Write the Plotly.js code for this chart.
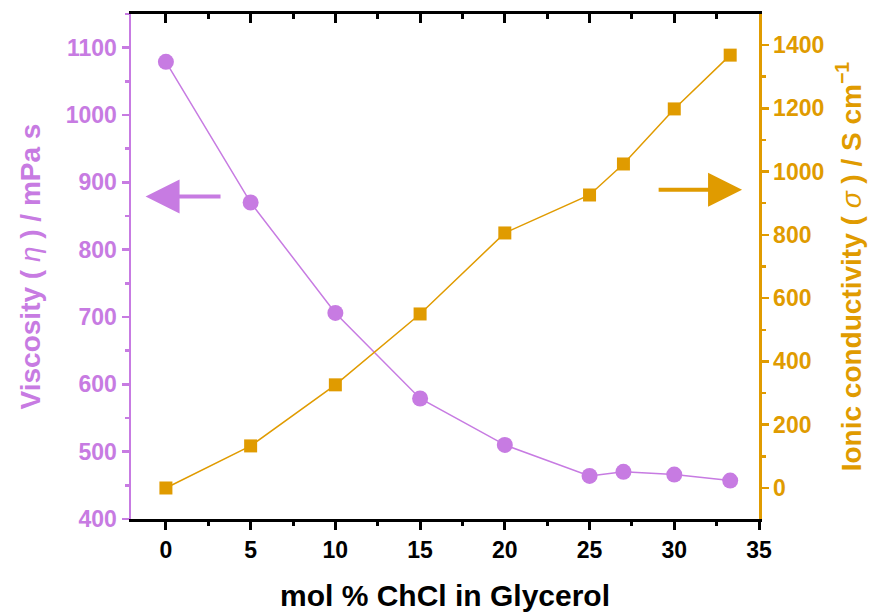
<!DOCTYPE html>
<html><head><meta charset="utf-8">
<script src="https://cdn.plot.ly/plotly-3.0.1.min.js"></script>
<style>body{margin:0;background:#fff}#g{width:880px;height:612px}</style>
</head><body><div id="g"></div>
<script>
const molPct = [0, 5, 10, 15, 20, 25, 27, 30, 33.3];
const viscosity = [1079, 870, 706, 579, 510, 464, 470, 466, 457];
const conductivity = [0, 133, 326, 550, 806, 926, 1024, 1198, 1368];
const xTicks = [0, 5, 10, 15, 20, 25, 30, 35];
const viscTicks = [400, 500, 600, 700, 800, 900, 1000, 1100];
const condTicks = [0, 200, 400, 600, 800, 1000, 1200, 1400];

const PURPLE = '#c77be2';
const ORANGE = '#e09b00';
const FONT = 'Liberation Sans, Arial, sans-serif';
const XR = [-2.06, 35];
const b = (s) => '<b>' + s + '</b>';

const traces = [
  {x: molPct, y: viscosity, type: 'scatter', mode: 'lines+markers',
   line: {color: PURPLE, width: 1.5},
   marker: {symbol: 'circle', size: 16, color: PURPLE}, yaxis: 'y', xaxis: 'x'},
  {x: molPct, y: conductivity, type: 'scatter', mode: 'lines+markers',
   line: {color: ORANGE, width: 1.5},
   marker: {symbol: 'square', size: 13, color: ORANGE}, yaxis: 'y2', xaxis: 'x'},
  {x: [XR[0]], y: [0], type: 'scatter', mode: 'markers', xaxis: 'x2', yaxis: 'y',
   marker: {opacity: 0}, hoverinfo: 'skip'}
];

const layout = {
  width: 880, height: 612,
  margin: {l: 130.5, r: 121, t: 14, b: 93},
  paper_bgcolor: '#fff', plot_bgcolor: '#fff',
  showlegend: false,
  font: {family: FONT},
  xaxis: {
    range: XR, tickmode: 'array', tickvals: xTicks, ticktext: xTicks.map(v => b(v)),
    ticks: 'outside', ticklen: 8, tickwidth: 3, tickcolor: '#000',
    minor: {dtick: 2.5, tick0: 0, ticks: 'outside', ticklen: 4, tickwidth: 3, tickcolor: '#000'},
    showline: true, linecolor: '#000', linewidth: 3, showgrid: false, zeroline: false,
    tickfont: {family: FONT, size: 23, color: '#000'},
    title: {text: b('mol % ChCl in Glycerol'), font: {family: FONT, size: 30, color: '#000'}, standoff: 28}
  },
  xaxis2: {
    overlaying: 'x', side: 'top', range: XR, tickmode: 'array', tickvals: xTicks,
    showticklabels: false, ticks: 'inside', ticklen: 9, tickwidth: 3, tickcolor: '#000',
    minor: {dtick: 2.5, tick0: 0, ticks: 'inside', ticklen: 5, tickwidth: 3, tickcolor: '#000'},
    showline: true, linecolor: '#000', linewidth: 3, showgrid: false, zeroline: false
  },
  yaxis: {
    range: [400, 1150], tickmode: 'array', tickvals: viscTicks, ticktext: viscTicks.map(v => b(v)),
    ticks: 'outside', ticklen: 7, tickwidth: 2.5, tickcolor: PURPLE,
    minor: {dtick: 50, tick0: 400, ticks: 'outside', ticklen: 4, tickwidth: 2.5, tickcolor: PURPLE},
    showline: true, linecolor: PURPLE, linewidth: 2.5, showgrid: false, zeroline: false,
    tickfont: {family: FONT, size: 23, color: PURPLE},
    title: {text: '<b>Viscosity ( </b><i>η</i><b> ) / mPa s</b>', font: {family: FONT, size: 28, color: PURPLE}, standoff: 17}
  },
  yaxis2: {
    overlaying: 'y', side: 'right', range: [-98, 1498], tickmode: 'array', tickvals: condTicks, ticktext: condTicks.map(v => b(v)),
    ticks: 'outside', ticklen: 7, tickwidth: 2.5, tickcolor: ORANGE,
    minor: {dtick: 100, tick0: 0, ticks: 'outside', ticklen: 4, tickwidth: 2.5, tickcolor: ORANGE},
    showline: true, linecolor: ORANGE, linewidth: 2.5, showgrid: false, zeroline: false,
    tickfont: {family: FONT, size: 23, color: ORANGE},
    title: {text: '<b>Ionic conductivity ( </b><i>σ</i><b> ) / S cm<sup>−1</sup></b>', font: {family: FONT, size: 28, color: ORANGE}, standoff: 18}
  },
  annotations: [
    {x: -1.2, y: 879, xref: 'x', yref: 'y', ax: 3.4, ay: 879, axref: 'x', ayref: 'y',
     showarrow: true, arrowhead: 2, arrowsize: 1.7, arrowwidth: 4, arrowcolor: PURPLE, text: ' '},
    {x: 34.0, y: 889, xref: 'x', yref: 'y', ax: 28.9, ay: 889, axref: 'x', ayref: 'y',
     showarrow: true, arrowhead: 2, arrowsize: 1.7, arrowwidth: 4, arrowcolor: ORANGE, text: ' '}
  ]
};

Plotly.newPlot('g', traces, layout, {displayModeBar: false, staticPlot: true});
</script>
</body></html>
